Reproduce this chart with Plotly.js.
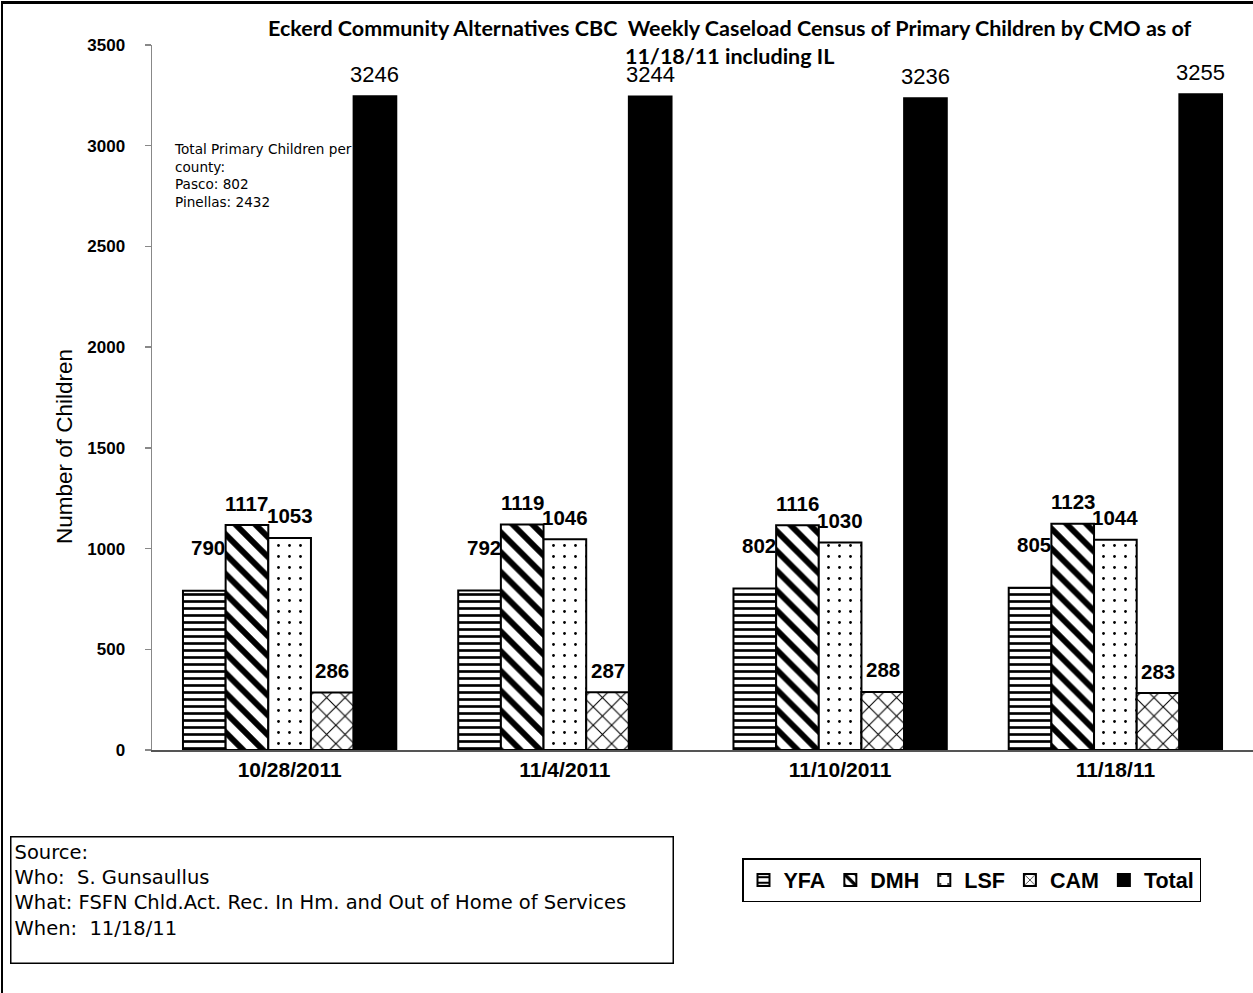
<!DOCTYPE html>
<html>
<head>
<meta charset="utf-8">
<script src="https://cdn.plot.ly/plotly-3.0.1.min.js"></script>
<style>
  html, body { margin: 0; padding: 0; background: #fff; }
  #wrap { position: relative; width: 1253px; height: 993px; overflow: hidden; }
  #chart { position: absolute; left: 0; top: 0; width: 1253px; height: 993px; }
  #frame { position: absolute; left: 1px; top: 1px; width: 1300px; height: 1100px;
           border-left: 2px solid #000; border-top: 3px solid #000; pointer-events: none; }
</style>
</head>
<body>
<div id="wrap">
  <div id="chart"></div>
  <div id="frame"></div>
</div>
<script>
// ---- data ----
const categories = ["10/28/2011", "11/4/2011", "11/10/2011", "11/18/11"];
const seriesNames = ["YFA", "DMH", "LSF", "CAM", "Total"];
const yfa   = [790, 792, 802, 805];
const dmh   = [1117, 1119, 1116, 1123];
const lsf   = [1053, 1046, 1030, 1044];
const cam   = [286, 287, 288, 283];
const total = [3246, 3244, 3236, 3255];
const yTickVals = [0, 500, 1000, 1500, 2000, 2500, 3000, 3500];

const titleText = "Eckerd Community Alternatives CBC\u00a0 Weekly Caseload Census of Primary Children by CMO as of<br>11/18/11 including IL";
const yTitle = "Number of Children";
const countyNote = "Total Primary Children per<br>county:<br>Pasco: 802<br>Pinellas: 2432";
const sourceNote = "Source:<br>Who:\u00a0 S. Gunsaullus<br>What: FSFN Chld.Act. Rec. In Hm. and Out of Home of Services<br>When:\u00a0 11/18/11";

// ---- styling ----
const values = [yfa, dmh, lsf, cam, total];
const patterns = [
  {shape: "-", size: 7, solidity: 0.38},
  {shape: "\\", size: 14, solidity: 0.42},
  {shape: ".", size: 11, solidity: 0.05},
  {shape: "x", size: 13, solidity: 0.16},
  null
];
const AR = "Liberation Sans, Arial, sans-serif";
const WIDE = "DejaVu Sans, Liberation Sans, sans-serif";
const bargap = 0.225;
const barW = (1 - bargap) / seriesNames.length;

const traces = seriesNames.map((name, i) => {
  const marker = {
    color: i === 4 ? "#000" : "#fff",
    line: {color: "#000", width: 2}
  };
  if (patterns[i]) {
    marker.pattern = Object.assign({fgcolor: "#000", bgcolor: "#fff", fillmode: "replace"}, patterns[i]);
  }
  return {
    type: "bar",
    name: name,
    x: categories,
    y: values[i],
    marker: marker,
    hoverinfo: "x+y+name"
  };
});

const annotations = [];
seriesNames.forEach((name, i) => {
  values[i].forEach((v, g) => {
    annotations.push({
      xref: "x", yref: "y",
      x: g + (i - 2) * barW,
      y: v,
      text: String(v),
      showarrow: false,
      yanchor: "middle",
      xanchor: "center",
      yshift: i === 0 ? 43 : 22,
      xshift: i === 0 ? 4 : 0,
      font: i === 4 ? {family: AR, size: 22, color: "#000"}
                    : {family: AR, size: 20.5, color: "#000", weight: "bold"}
    });
  });
});

// title
annotations.push({
  xref: "paper", yref: "paper",
  x: (730 - 152) / 1101, y: (750 - 13) / 705,
  xanchor: "center", yanchor: "top", align: "center",
  showarrow: false, text: titleText,
  font: {family: "Lato, sans-serif", size: 21.5, color: "#000", weight: "bold"}
});

annotations.push({
  xref: "paper", yref: "paper",
  x: (172 - 152) / 1101, y: (750 - 139) / 705,
  xanchor: "left", yanchor: "top", align: "left",
  showarrow: false, text: countyNote,
  font: {family: WIDE, size: 13.6, color: "#000"}
});

annotations.push({
  xref: "paper", yref: "paper",
  x: (65 - 152) / 1101, y: (750 - 447) / 705,
  xanchor: "center", yanchor: "middle",
  textangle: -90, showarrow: false, text: yTitle,
  font: {family: AR, size: 22.5, color: "#000"}
});

annotations.push({
  xref: "paper", yref: "paper",
  x: (10 - 152) / 1101, y: (750 - 836) / 705,
  xanchor: "left", yanchor: "top", align: "left", valign: "top",
  width: 655, height: 119,
  bordercolor: "#000", borderwidth: 1.5, borderpad: 3,
  bgcolor: "#fff",
  showarrow: false, text: sourceNote,
  font: {family: WIDE, size: 19.5, color: "#000"}
});

const layout = {
  width: 1253, height: 993,
  margin: {l: 152, r: 0, t: 45, b: 243, pad: 0},
  paper_bgcolor: "#fff", plot_bgcolor: "#fff",
  barmode: "group", bargap: bargap, bargroupgap: 0,
  xaxis: {
    type: "category",
    range: [-0.5, 3.5],
    showline: true, linecolor: "#555", linewidth: 2,
    ticks: "", showgrid: false, zeroline: false,
    tickfont: {family: AR, size: 21, color: "#000", weight: "bold"}
  },
  yaxis: {
    range: [0, 3500],
    tickvals: yTickVals,
    showline: true, linecolor: "#888", linewidth: 1.5,
    ticks: "outside", ticklen: 6, tickcolor: "#888", tickwidth: 1.5,
    ticklabelstandoff: 16,
    showgrid: false, zeroline: false,
    tickfont: {family: AR, size: 17, color: "#000", weight: "bold"}
  },
  showlegend: true,
  legend: {
    orientation: "h",
    x: (742 - 152) / 1101, y: (750 - 858) / 705,
    xanchor: "left", yanchor: "top",
    bordercolor: "#000", borderwidth: 1.5, bgcolor: "#fff",
    itemwidth: 30,
    font: {family: AR, size: 21.5, color: "#000", weight: "bold"},
    traceorder: "normal"
  },
  annotations: annotations
};

Plotly.newPlot("chart", traces, layout, {displayModeBar: false, staticPlot: true});
</script>
</body>
</html>
